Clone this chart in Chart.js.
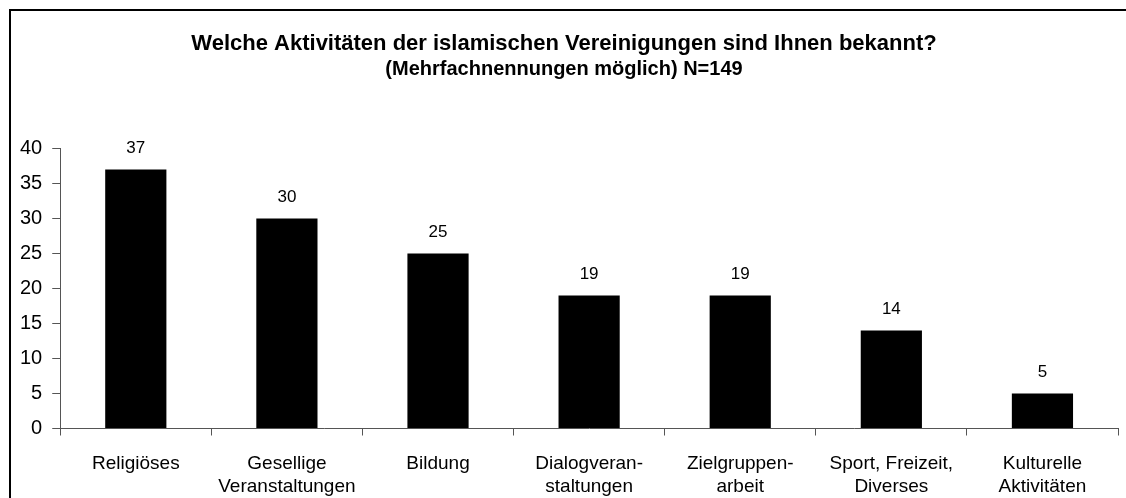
<!DOCTYPE html>
<html>
<head>
<meta charset="utf-8">
<script src="https://cdn.jsdelivr.net/npm/chart.js@4"></script>
<style>
  html, body { margin: 0; padding: 0; background: #fff; }
  #wrap { width: 1126px; height: 498px; }
</style>
</head>
<body>
<div id="wrap"><canvas id="chart"></canvas></div>
<script>
const categories = [
	["Religiöses"],
	["Gesellige", "Veranstaltungen"],
	["Bildung"],
	["Dialogveran-", "staltungen"],
	["Zielgruppen-", "arbeit"],
	["Sport, Freizeit,", "Diverses"],
	["Kulturelle", "Aktivitäten"],
];
const counts = [37, 30, 25, 19, 19, 14, 5];
const titleText = "Welche Aktivitäten der islamischen Vereinigungen sind Ihnen bekannt?";
const subtitleText = "(Mehrfachnennungen möglich) N=149";

const font = "'Liberation Sans', Arial, sans-serif";

// white background + frame (only top/left edges fall inside the picture)
const framePlugin = {
	id: "frame",
	beforeDraw(chart) {
		const c = chart.ctx;
		c.save();
		c.fillStyle = "#fff";
		c.fillRect(0, 0, chart.width, chart.height);
		c.strokeStyle = "#000";
		c.lineWidth = 2;
		c.strokeRect(10, 10, chart.width + 50, chart.height + 50);
		c.restore();
	},
};

// value above each bar
const valuePlugin = {
	id: "values",
	afterDatasetsDraw(chart) {
		const c = chart.ctx;
		const meta = chart.getDatasetMeta(0);
		c.save();
		c.fillStyle = "#000";
		c.font = "17px " + font;
		c.textAlign = "center";
		c.textBaseline = "alphabetic";
		meta.data.forEach((bar, i) => {
			c.fillText(String(counts[i]), bar.x, bar.y - 16);
		});
		c.restore();
	},
};

new Chart(document.getElementById("chart"), {
	type: "bar",
	data: {
		labels: categories,
		datasets: [
			{
				data: counts,
				backgroundColor: "#000",
				borderWidth: 0,
				categoryPercentage: 1,
				barPercentage: 0.405,
			},
		],
	},
	options: {
		responsive: true,
		maintainAspectRatio: false,
		animation: false,
		// x labels reserve more room than they draw, pull the axis down
		layout: { padding: { left: 10, right: 8, top: 0, bottom: -17 } },
		plugins: {
			legend: { display: false },
			tooltip: { enabled: false },
			title: {
				display: true,
				text: titleText,
				color: "#000",
				font: { family: font, size: 22, weight: "bold" },
				padding: { top: 31, bottom: 0 },
			},
			subtitle: {
				display: true,
				text: subtitleText,
				color: "#000",
				font: { family: font, size: 20, weight: "bold" },
				padding: { top: 0, bottom: 67 },
			},
		},
		scales: {
			x: {
				grid: {
					drawOnChartArea: false,
					drawTicks: true,
					tickLength: 7,
					color: "#555",
				},
				border: { display: true, color: "#555", width: 1 },
				ticks: {
					color: "#000",
					font: { family: font, size: 19, lineHeight: 1.25 },
					padding: 16,
					maxRotation: 0,
					autoSkip: false,
				},
			},
			y: {
				min: 0,
				max: 40,
				grid: {
					drawOnChartArea: false,
					drawTicks: true,
					tickLength: 8,
					color: "#555",
				},
				border: { display: true, color: "#555", width: 1 },
				ticks: {
					stepSize: 5,
					color: "#000",
					font: { family: font, size: 20 },
					padding: 10,
				},
			},
		},
	},
	plugins: [framePlugin, valuePlugin],
});
</script>
</body>
</html>
